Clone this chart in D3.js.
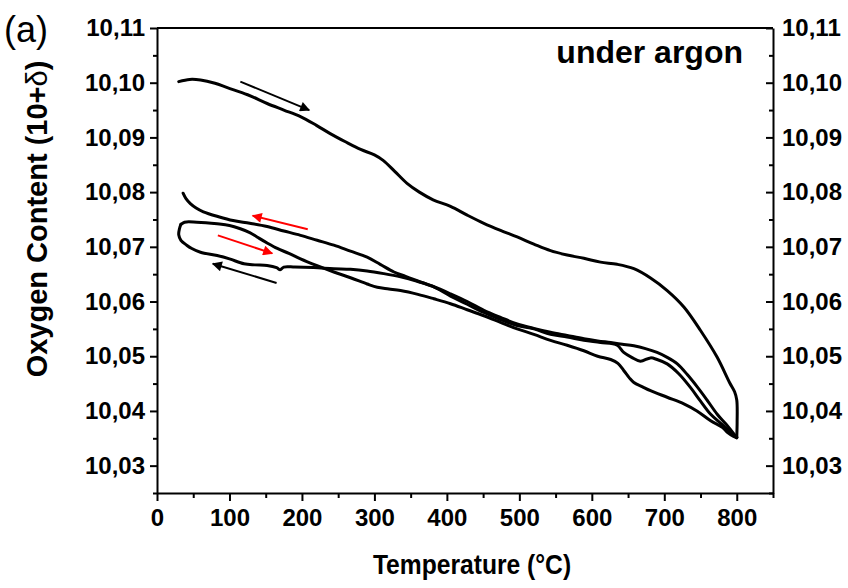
<!DOCTYPE html>
<html>
<head>
<meta charset="utf-8">
<script src="https://cdn.jsdelivr.net/npm/d3@7"></script>
<style>
  body { margin: 0; background: #fff; }
  svg { display: block; font-family: 'Liberation Sans', Arial, sans-serif; }
  .axis path, .axis line { stroke: #000; stroke-width: 2; }
  .axis text { font-size: 24px; font-weight: bold; fill: #000; }
  .trace { fill: none; stroke: #000; stroke-width: 3; stroke-linejoin: round; stroke-linecap: round; }
</style>
</head>
<body>
<main></main>
<script>
const w = 848;
const h = 588;
const margin = { top: 28, right: 75, bottom: 95, left: 157 };

// [temperature °C, oxygen content]
const heating1 = [
  [30, 10.1002], [45, 10.1006], [60, 10.1005], [80, 10.0999], [97, 10.0991],
  [125, 10.0978], [152, 10.0962], [175, 10.095], [198, 10.0938], [220, 10.0922],
  [239, 10.0907], [260, 10.0892], [281, 10.0878], [300, 10.0868], [312, 10.0858],
  [328, 10.0838], [345, 10.0816], [362, 10.08], [381, 10.0786], [405, 10.0774],
  [428, 10.0758], [451, 10.0743], [474, 10.073], [497, 10.0718], [520, 10.0705],
  [543, 10.0693], [566, 10.0685], [589, 10.0679], [612, 10.0672], [635, 10.0668],
  [658, 10.066], [681, 10.0643], [704, 10.062], [727, 10.059], [750, 10.0547],
  [773, 10.0498], [790, 10.0452], [797, 10.0435], [800, 10.042], [800.5, 10.038],
  [800, 10.0352],
];

const cooling1 = [
  [800, 10.0352], [796, 10.0355], [780, 10.0375], [764, 10.0394], [750, 10.0418],
  [736, 10.0443], [720, 10.0468], [704, 10.0486], [690, 10.0494], [681, 10.0497],
  [667, 10.0491], [655, 10.0498], [644, 10.0507], [635, 10.052], [612, 10.0525],
  [589, 10.0529], [566, 10.0535], [543, 10.054], [520, 10.055], [497, 10.0556],
  [474, 10.0567], [451, 10.058], [428, 10.0595], [405, 10.061], [380, 10.0628],
  [359, 10.0637], [336, 10.0645], [313, 10.0651], [290, 10.0656], [267, 10.0659],
  [244, 10.066], [216, 10.0662], [190, 10.0663], [175, 10.0663], [170, 10.0658],
  [165, 10.0662], [152, 10.0666], [135, 10.0667], [120, 10.0669], [100, 10.0678],
  [83, 10.0684], [60, 10.069], [48, 10.0697], [41, 10.0703], [33, 10.0712],
  [30, 10.0722], [31, 10.0733], [33, 10.0741],
];

const heating2 = [
  [33, 10.0741], [38, 10.0745], [55, 10.0745], [83, 10.0742], [100, 10.0739],
  [115, 10.0733], [128, 10.0726], [138, 10.0718], [152, 10.0707], [166, 10.0697],
  [182, 10.0688], [198, 10.0678], [220, 10.0666], [244, 10.0654], [268, 10.0643],
  [290, 10.0632], [304, 10.0626], [320, 10.0623], [336, 10.062], [360, 10.0613],
  [382, 10.0605], [405, 10.0596], [428, 10.0585], [451, 10.0574], [474, 10.0562],
  [497, 10.055], [520, 10.054], [543, 10.0529], [566, 10.052], [589, 10.051],
  [608, 10.05], [626, 10.0494], [636, 10.0487], [644, 10.0474], [652, 10.046],
  [658, 10.0452], [670, 10.0444], [681, 10.0437], [704, 10.0425], [727, 10.0413],
  [745, 10.04], [764, 10.0382], [780, 10.037], [787, 10.0361], [795, 10.0354],
  [800, 10.0351],
];

const cooling2 = [
  [800, 10.0351], [796, 10.0358], [785, 10.0376], [773, 10.0394], [760, 10.0418],
  [746, 10.0443], [732, 10.0466], [718, 10.0486], [704, 10.0498], [690, 10.0507],
  [674, 10.0514], [658, 10.0519], [642, 10.0522], [626, 10.0525], [608, 10.0528],
  [589, 10.0532], [566, 10.0538], [543, 10.0544], [520, 10.0551], [497, 10.0559],
  [474, 10.0571], [451, 10.0584], [428, 10.06], [405, 10.0614], [382, 10.0627],
  [359, 10.0638], [343, 10.0646], [327, 10.0654], [308, 10.0668], [290, 10.0681],
  [267, 10.0692], [244, 10.0703], [221, 10.0712], [198, 10.0721], [175, 10.0729],
  [152, 10.0737], [128, 10.0743], [105, 10.0748], [85, 10.0755], [64, 10.0764],
  [54, 10.0771], [46, 10.0779], [40, 10.0788], [36, 10.0798],
];

// direction arrows: tail T, tail value, head T, head value, colour
const arrows = [
  [115, 10.1002, 210, 10.095, '#000'],
  [208, 10.0732, 132, 10.0757, '#ff0000'],
  [84, 10.0721, 159, 10.0688, '#ff0000'],
  [165, 10.0634, 77, 10.0669, '#000'],
];

const xTicks = [0, 100, 200, 300, 400, 500, 600, 700, 800];
const yTicks = [10.03, 10.04, 10.05, 10.06, 10.07, 10.08, 10.09, 10.1, 10.11];

const xScale = d3.scaleLinear().domain([0, 850]).range([margin.left, w - margin.right]);
const yScale = d3.scaleLinear().domain([10.025, 10.11]).range([h - margin.bottom, margin.top]);

const fmtY = v => d3.format('.2f')(v).replace('.', ',');

const svg = d3.select('main').append('svg').attr('width', w).attr('height', h);

// minor ticks
const xMinor = d3.range(50, 851, 100);
const yMinor = d3.range(10.025, 10.11, 0.01);

svg.append('g').attr('class', 'axis')
  .attr('transform', `translate(0,${h - margin.bottom})`)
  .call(d3.axisBottom(xScale).tickValues(xMinor).tickSize(5).tickFormat(''))
  .call(g => g.select('.domain').remove());
svg.append('g').attr('class', 'axis')
  .attr('transform', `translate(0,${h - margin.bottom})`)
  .call(d3.axisBottom(xScale).tickValues(xTicks).tickSize(8).tickSizeOuter(0).tickPadding(8));

svg.append('g').attr('class', 'axis')
  .attr('transform', `translate(${margin.left},0)`)
  .call(d3.axisLeft(yScale).tickValues(yMinor).tickSize(4).tickFormat(''))
  .call(g => g.select('.domain').remove());
svg.append('g').attr('class', 'axis')
  .attr('transform', `translate(${margin.left},0)`)
  .call(d3.axisLeft(yScale).tickValues(yTicks).tickSize(7).tickSizeOuter(0).tickPadding(5).tickFormat(fmtY));

// right axis: ticks inside, labels outside
const right = svg.append('g').attr('class', 'axis')
  .attr('transform', `translate(${w - margin.right},0)`)
  .call(d3.axisLeft(yScale).tickValues(yTicks).tickSize(7).tickSizeOuter(0).tickFormat(fmtY));
right.selectAll('.tick text').attr('x', 9).attr('text-anchor', 'start');
svg.append('g').attr('class', 'axis')
  .attr('transform', `translate(${w - margin.right},0)`)
  .call(d3.axisLeft(yScale).tickValues(yMinor).tickSize(4).tickFormat(''))
  .call(g => g.select('.domain').remove());

svg.append('line')
  .attr('x1', margin.left).attr('x2', w - margin.right)
  .attr('y1', margin.top).attr('y2', margin.top)
  .attr('stroke', '#000').attr('stroke-width', 2);

const line = d3.line()
  .x(d => xScale(d[0]))
  .y(d => yScale(d[1]))
  .curve(d3.curveCatmullRom.alpha(0.5));

svg.selectAll('path.trace')
  .data([heating1, cooling1, heating2, cooling2])
  .enter()
  .append('path')
  .attr('class', 'trace')
  .attr('d', line);

const defs = svg.append('defs');
['#000', '#ff0000'].forEach((c, i) => {
  defs.append('marker')
    .attr('id', `head${i}`)
    .attr('viewBox', '0 0 10 10')
    .attr('refX', 9).attr('refY', 5)
    .attr('markerWidth', 7).attr('markerHeight', 5)
    .attr('markerUnits', 'strokeWidth')
    .attr('orient', 'auto')
    .append('path')
    .attr('d', 'M0,0 L10,5 L0,10 z')
    .attr('fill', c);
});

svg.selectAll('line.arrow')
  .data(arrows)
  .enter()
  .append('line')
  .attr('class', 'arrow')
  .attr('x1', d => xScale(d[0]))
  .attr('y1', d => yScale(d[1]))
  .attr('x2', d => xScale(d[2]))
  .attr('y2', d => yScale(d[3]))
  .attr('stroke', d => d[4])
  .attr('stroke-width', 2)
  .attr('marker-end', d => (d[4] === '#000' ? 'url(#head0)' : 'url(#head1)'));

svg.append('text')
  .attr('x', 4).attr('y', 42)
  .style('font-size', '36px')
  .text('(a)');

svg.append('text')
  .attr('x', 743).attr('y', 63)
  .attr('text-anchor', 'end')
  .style('font-size', '32px').style('font-weight', 'bold')
  .text('under argon');

// the original lettering is a little condensed
svg.append('text')
  .attr('transform', 'translate(472,574) scale(0.88,1)')
  .attr('text-anchor', 'middle')
  .style('font-size', '28px').style('font-weight', 'bold')
  .text('Temperature (°C)');

const yTitle = svg.append('text')
  .attr('transform', 'translate(47,219) rotate(-90)')
  .attr('text-anchor', 'middle')
  .style('font-size', '29px').style('font-weight', 'bold');
yTitle.append('tspan').text('Oxygen Content (10+');
yTitle.append('tspan').style('font-weight', 'normal').text('δ');
yTitle.append('tspan').text(')');
</script>
</body>
</html>
